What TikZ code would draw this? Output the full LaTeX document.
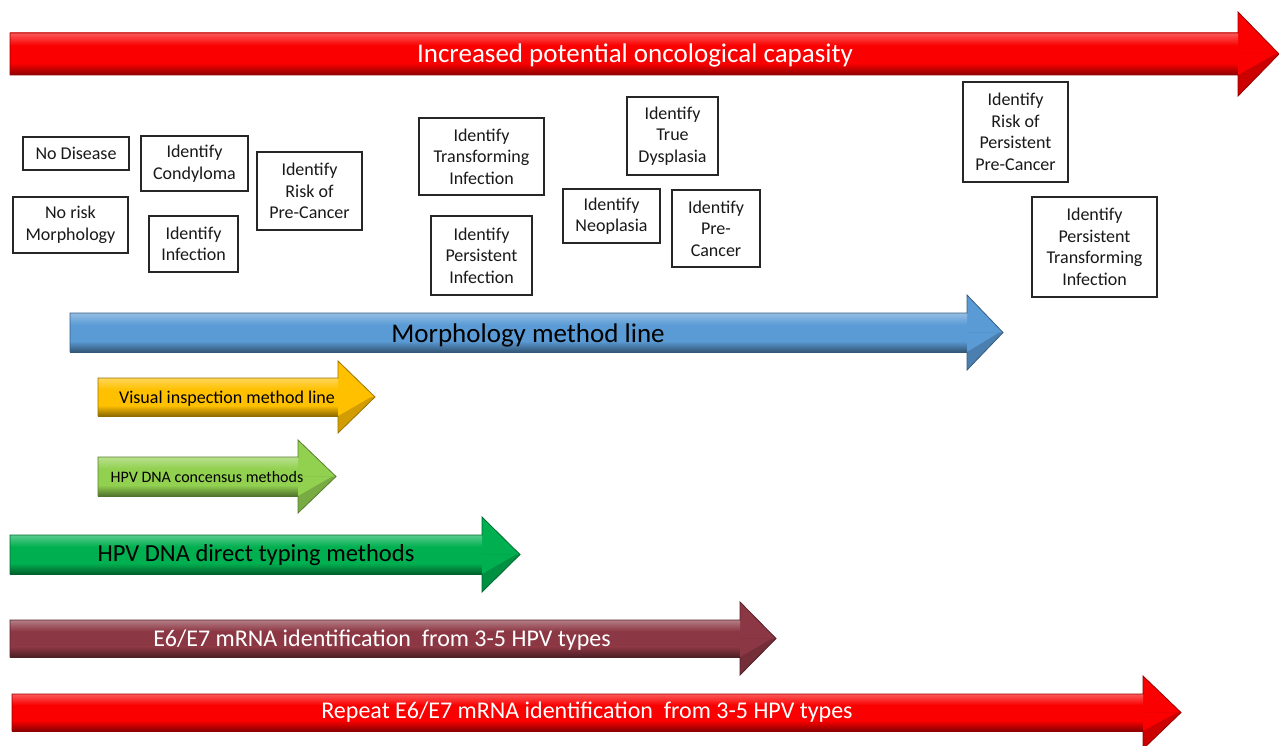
\documentclass[tikz,border=0pt]{standalone}
\usepackage{fontspec}
\setmainfont{Carlito}
\begin{document}
\begin{tikzpicture}[x=1pt,y=-1pt,
  boxnode/.style={draw=black!85, line width=1.1pt, fill=white, align=center, inner sep=0pt,
    font=\fontsize{18}{21.5}\selectfont, text=black!90},
  arrtext/.style={inner sep=0pt, anchor=center}]
\useasboundingbox (0,0) rectangle (1279,746);
\fill[white] (0,0) rectangle (1279,746);
% #1 x0, #2 head start, #3 tip, #4 shaft top, #5 shaft bottom, #6 overhang, #7 colour, #8 dark edge
\newcommand{\fatarrow}[8]{%
  \fill[#7] (#1,#4) -- (#2,#4) -- (#2,#4-#6) -- (#3,{(#4+#5)/2}) -- (#2,#5+#6) -- (#2,#5) -- (#1,#5) -- cycle;
  \shade[top color=#7!65!white, bottom color=#7] (#1,#4) rectangle (#2,{#4+0.3*(#5-#4)});
  \shade[top color=#7, bottom color=#7!55!black] (#1,{#4+0.72*(#5-#4)}) rectangle (#2,#5);
  \fill[#7!82!black] (#2,{(#4+#5)/2}) -- (#3,{(#4+#5)/2}) -- (#2,#5+#6) -- cycle;
  \fill[#7] (#2,#5) -- (#2,{(#4+#5)/2}) -- (#3-4,{(#4+#5)/2}) -- cycle;
  \draw[#8, line width=0.8pt, line join=miter] (#1,#4) -- (#2,#4) -- (#2,#4-#6) -- (#3,{(#4+#5)/2}) -- (#2,#5+#6) -- (#2,#5) -- (#1,#5) -- cycle;
}
\definecolor{myred}{RGB}{250,0,0}
\definecolor{myblue}{RGB}{91,155,213}
\definecolor{myyellow}{RGB}{255,192,0}
\definecolor{mylgreen}{RGB}{146,208,80}
\definecolor{mygreen}{RGB}{0,176,80}
\definecolor{mymaroon}{RGB}{140,56,68}

\fatarrow{10}{1238}{1279}{33}{75}{21}{myred}{myred!60!black}
\node[arrtext, text=white, font=\fontsize{27}{30}\selectfont] (toptxt) at (635,55) {Increased potential oncological capasity};

\fatarrow{70}{967}{1003}{313}{352}{18}{myblue}{myblue!60!black}
\node[arrtext, text=black, font=\fontsize{27}{30}\selectfont] (morph) at (528,335) {Morphology method line};

\fatarrow{98}{338}{375}{378}{416}{17}{myyellow}{myyellow!60!black}
\node[arrtext, text=black, font=\fontsize{18}{21}\selectfont] (visual) at (227,399) {Visual inspection method line};

\fatarrow{98}{298}{336}{457}{496}{17}{mylgreen}{mylgreen!60!black}
\node[arrtext, text=black, font=\fontsize{16}{19}\selectfont] (consensus) at (207,477) {HPV DNA concensus methods};

\fatarrow{10}{482}{520}{535}{574}{18}{mygreen}{mygreen!60!black}
\node[arrtext, text=black, font=\fontsize{24.5}{28}\selectfont] (direct) at (256,555) {HPV DNA direct typing methods};

\fatarrow{10}{740}{776}{620}{657}{18}{mymaroon}{mymaroon!60!black}
\node[arrtext, text=white, font=\fontsize{24}{28}\selectfont] (mrna) at (382,640) {E6/E7 mRNA identification\ \ from 3-5 HPV types};

\fatarrow{12}{1143}{1181}{694}{731}{18}{myred}{myred!60!black}
\node[arrtext, text=white, font=\fontsize{24}{28}\selectfont] (repeat) at (587,712) {Repeat E6/E7 mRNA identification\ \ from 3-5 HPV types};

% boxes
\node[boxnode, minimum width=106, minimum height=33] (nodis) at (76,153.5) {No Disease};
\node[boxnode, minimum width=107, minimum height=55] (condy) at (194.5,163.5) {Identify\\Condyloma};
\node[boxnode, minimum width=115, minimum height=56] (norisk) at (70.5,225) {No risk\\Morphology};
\node[boxnode, minimum width=89, minimum height=56] (infect) at (193.5,244) {Identify\\Infection};
\node[boxnode, minimum width=105, minimum height=78] (riskpc) at (309.5,191) {Identify\\Risk of\\Pre-Cancer};
\node[boxnode, minimum width=125, minimum height=77] (transf) at (481.5,156.5) {Identify\\Transforming\\Infection};
\node[boxnode, minimum width=101, minimum height=79] (persinf) at (481.5,255.5) {Identify\\Persistent\\Infection};
\node[boxnode, minimum width=91, minimum height=78] (truedys) at (672.5,136) {Identify\\True\\Dysplasia};
\node[boxnode, minimum width=97, minimum height=54] (neopl) at (611.5,216) {Identify\\Neoplasia};
\node[boxnode, minimum width=88, minimum height=77] (precan) at (716,228.5) {Identify\\Pre-\\Cancer};
\node[boxnode, minimum width=105, minimum height=100] (riskpers) at (1015.5,132) {Identify\\Risk of\\Persistent\\Pre-Cancer};
\node[boxnode, minimum width=125, minimum height=100] (perstrans) at (1094.5,247) {Identify\\Persistent\\Transforming\\Infection};
\end{tikzpicture}
\end{document}
